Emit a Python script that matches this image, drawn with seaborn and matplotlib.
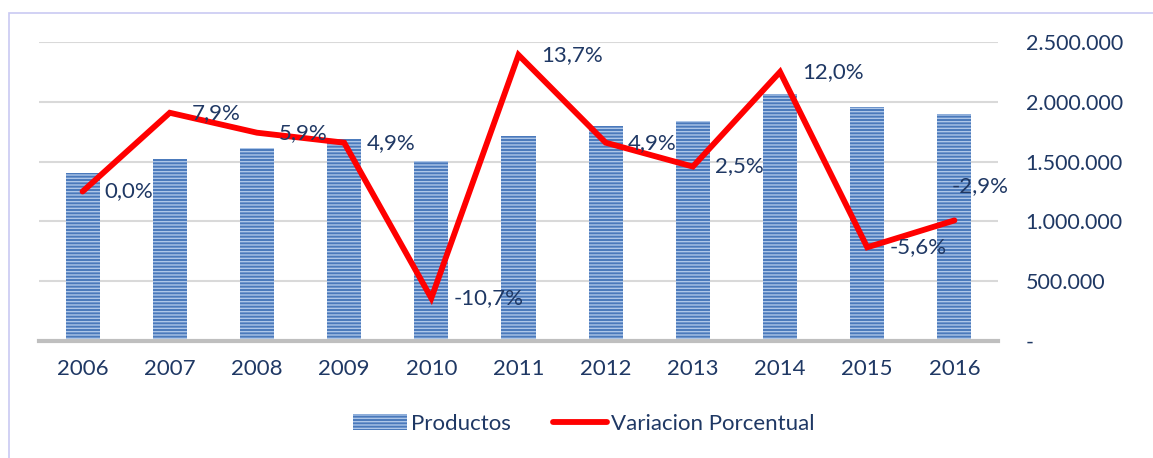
import numpy as np
import matplotlib
matplotlib.use("Agg")
import matplotlib.pyplot as plt
import seaborn as sns
from matplotlib.lines import Line2D
from matplotlib.patches import Patch, Rectangle
from matplotlib.ticker import FuncFormatter

# Data
years = ["2006", "2007", "2008", "2009", "2010", "2011",
         "2012", "2013", "2014", "2015", "2016"]
productos = [1408000, 1522000, 1611000, 1689000, 1508000, 1711000,
             1800000, 1842000, 2069000, 1953000, 1897000]
variacion = [0.0, 7.9, 5.9, 4.9, -10.7, 13.7, 4.9, 2.5, 12.0, -5.6, -2.9]
var_labels = ["0,0%", "7,9%", "5,9%", "4,9%", "-10,7%", "13,7%",
              "4,9%", "2,5%", "12,0%", "-5,6%", "-2,9%"]

sns.set_theme(style="white")
plt.rcParams["font.family"] = ["Lato", "DejaVu Sans"]
plt.rcParams["hatch.linewidth"] = 1.0

text_color = "#1f3864"
bar_color = "#4a79bb"
stripe_color = "#adc6e8"
line_color = "#ff0000"
fs = 16

fig = plt.figure(figsize=(11.53, 4.58), dpi=100)
ax = fig.add_axes([39 / 1153, 1 - 341 / 458, (998 - 39) / 1153, (341 - 42) / 458])
ax2 = ax.twinx()

# Bars
sns.barplot(x=years, y=productos, ax=ax, color=bar_color, width=0.39,
            saturation=1, zorder=2)
for p in ax.patches:
    p.set_hatch("-----")
    p.set_edgecolor(stripe_color)
    p.set_linewidth(0)

ax.set_xlim(-0.5, len(years) - 0.5)
ax.set_ylim(0, 2500000)
ax.set_yticks(np.arange(0, 2500001, 500000))
ax.yaxis.tick_right()
ax.yaxis.set_major_formatter(FuncFormatter(
    lambda v, pos: "-" if v == 0 else f"{int(v):,}".replace(",", ".")))
ax.grid(axis="y", color="#d9d9d9", linewidth=1.5, zorder=0)
ax.set_axisbelow(True)
for s in ["top", "left", "right"]:
    ax.spines[s].set_visible(False)
ax.spines["bottom"].set_color("#bfbfbf")
ax.spines["bottom"].set_linewidth(3)
ax.tick_params(axis="y", length=0, pad=20, labelsize=fs - 0.5, labelcolor=text_color)
ax.tick_params(axis="x", length=0, pad=13, labelsize=fs, labelcolor=text_color)
for t in ax.yaxis.get_major_ticks():
    t.label2.set_horizontalalignment("left")
ax.set_xlabel("")
ax.set_ylabel("")

# Line on secondary (hidden) axis
x_pos = np.arange(len(years))
sns.lineplot(x=x_pos, y=variacion, ax=ax2, color=line_color, linewidth=4.2,
             solid_capstyle="round", solid_joinstyle="miter")
ax2.set_ylim(-15, 15)
ax2.set_xlim(-0.5, len(years) - 0.5)
ax2.axis("off")

for i, (v, t) in enumerate(zip(variacion, var_labels)):
    if i == len(years) - 1:
        off = (-2, 25)
    else:
        off = (16, 0)
    ax2.annotate(t, (x_pos[i], v), xytext=off, textcoords="offset points",
                 ha="left", va="center", fontsize=fs, color=text_color)

# Legend
handles = [
    Patch(facecolor=bar_color, edgecolor=stripe_color, hatch="-----", linewidth=0),
    Line2D([0], [0], color=line_color, linewidth=4.2, solid_capstyle="round"),
]
fig.legend(handles, ["Productos", "Variacion Porcentual"], loc="center",
           bbox_to_anchor=(584 / 1153, 1 - 424 / 458), ncol=2, frameon=False,
           fontsize=fs, labelcolor=text_color, handlelength=2.4,
           handleheight=0.7, handletextpad=0.2, columnspacing=1.9)

# Chart border
fig.patches.append(Rectangle((9 / 1153, -0.1), 1.2, 1.1 - 13 / 458,
                             transform=fig.transFigure, fill=False,
                             edgecolor="#c9c9f2", linewidth=1.2))

fig.savefig("out.png", dpi=100)
